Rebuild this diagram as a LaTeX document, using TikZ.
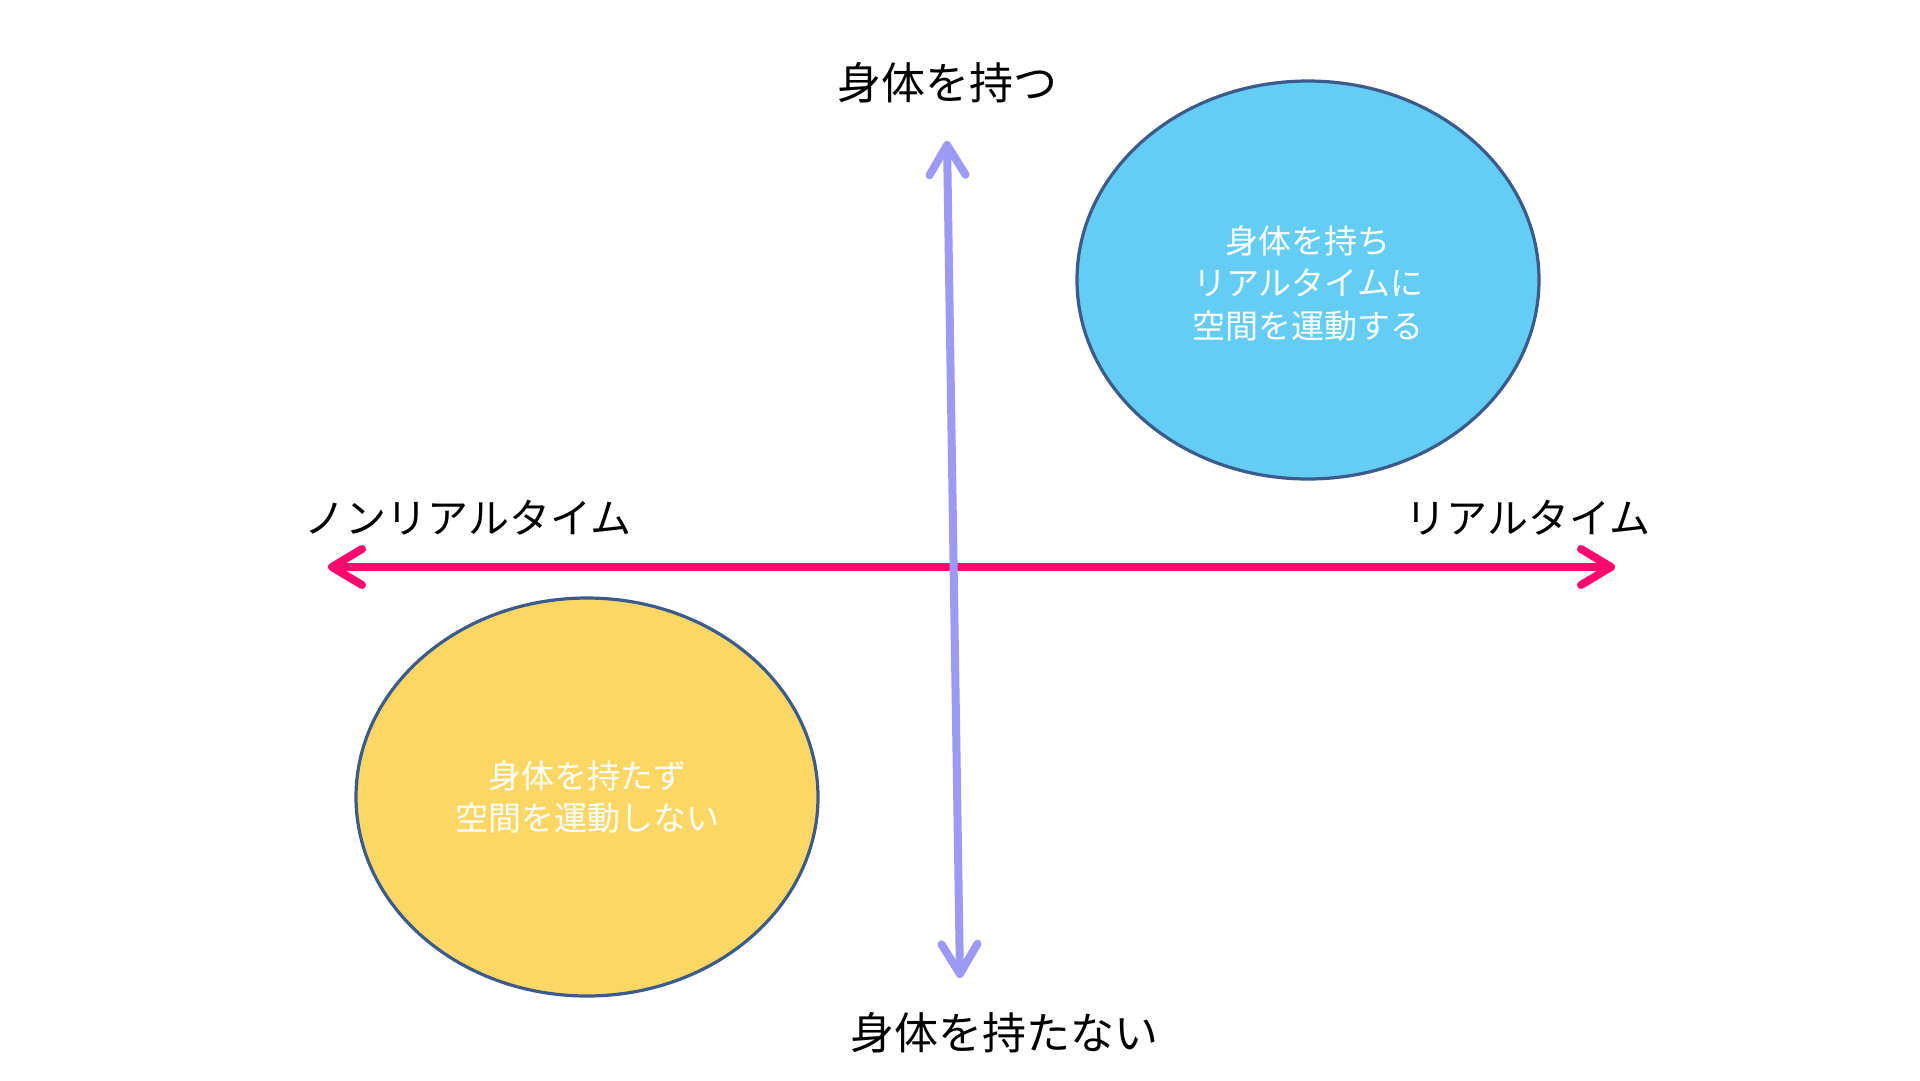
\documentclass[tikz,border=0pt]{standalone}
\usepackage{fontspec}
\setmainfont{Noto Sans CJK JP}
\usetikzlibrary{arrows.meta,shapes.geometric}
\definecolor{bluefill}{HTML}{63CDF4}
\definecolor{yellowfill}{HTML}{FCD764}
\definecolor{rimblue}{HTML}{3B5B8C}
\definecolor{axisv}{HTML}{9B9BF7}
\definecolor{axish}{HTML}{FF0A6C}
\begin{document}
\begin{tikzpicture}[x=1pt,y=-1pt,
  blob/.style={ellipse, draw=rimblue, line width=3.2pt, minimum width=462pt, minimum height=398pt, inner sep=0pt},
  blobtext/.style={text=white, align=center, inner sep=0pt, font=\fontsize{33}{42.5}\selectfont},
  axislabel/.style={font=\fontsize{44}{50}\selectfont, text=black, inner sep=0pt},
  hlabel/.style={font=\fontsize{41}{48}\selectfont, text=black, inner sep=0pt},
  axisline/.style={line width=8pt, line cap=round, {Straight Barb[length=30pt,width=36pt,round]}-{Straight Barb[length=30pt,width=36pt,round]}}]
\useasboundingbox (0,0) rectangle (1920,1080);
\fill[white] (0,0) rectangle (1920,1080);

\node[blob, fill=bluefill] (rt) at (1308,280) {};
\node[blobtext] (rttext) at (1308,283) {身体を持ち\\リアルタイムに\\空間を運動する};
\node[blob, fill=yellowfill] (nrt) at (587,797) {};
\node[blobtext] (nrttext) at (587,797) {身体を持たず\\空間を運動しない};

\coordinate (vtop) at (947,141);
\coordinate (vbot) at (960,978);
\coordinate (hleft) at (328,567);
\coordinate (hright) at (1615,567);

\draw[axisline, draw=axish] (hleft) -- (hright);
\draw[axisline, draw=axisv] (vtop) -- (vbot);

\node[axislabel] (top) at (947,83) {身体を持つ};
\node[axislabel] (bot) at (1004,1033) {身体を持たない};
\node[hlabel] (left) at (468,518) {ノンリアルタイム};
\node[hlabel] (right) at (1528,518) {リアルタイム};
\end{tikzpicture}
\end{document}
